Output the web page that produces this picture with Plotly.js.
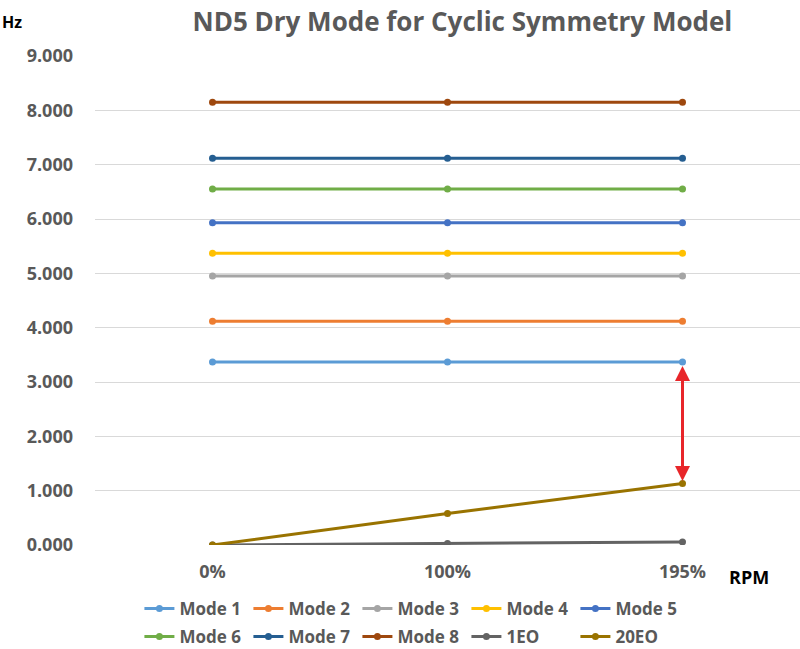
<!DOCTYPE html>
<html>
<head>
<meta charset="utf-8">
<script src="https://cdn.plot.ly/plotly-3.0.1.min.js"></script>
<style>html,body{margin:0;padding:0;background:#fff;}#chart{width:800px;height:649px;}</style>
</head>
<body>
<div id="chart"></div>
<script>
const categories = ["0%", "100%", "195%"];
const seriesNames = ["Mode 1","Mode 2","Mode 3","Mode 4","Mode 5","Mode 6","Mode 7","Mode 8","1EO","20EO"];
const mode1 = [3.37, 3.37, 3.37];
const mode2 = [4.12, 4.12, 4.12];
const mode3 = [4.95, 4.95, 4.95];
const mode4 = [5.37, 5.37, 5.37];
const mode5 = [5.93, 5.93, 5.93];
const mode6 = [6.55, 6.55, 6.55];
const mode7 = [7.12, 7.12, 7.12];
const mode8 = [8.15, 8.15, 8.15];
const eo1 = [0.0, 0.029, 0.057];
const eo20 = [0.0, 0.58, 1.13];
const yTicks = [0,1,2,3,4,5,6,7,8,9];
const colors = ["#5B9BD5","#ED7D31","#A5A5A5","#FFC000","#4472C4","#70AD47","#255E91","#9E480E","#636363","#997300"];

const allSeries = [mode1,mode2,mode3,mode4,mode5,mode6,mode7,mode8,eo1,eo20];
const FONT = "'Open Sans', 'Noto Sans', sans-serif";

const traces = allSeries.map((vals, i) => ({
  type: "scatter",
  mode: "lines+markers",
  name: seriesNames[i],
  legend: i < 5 ? "legend" : "legend2",
  x: categories,
  y: vals,
  line: {color: colors[i], width: 3},
  marker: {color: colors[i], size: 7}
}));

const legendFont = {family: FONT, size: 17, color: "#595959", weight: "bold"};
const legendCommon = {
  orientation: "h",
  xref: "paper", x: 0.063, xanchor: "left",
  yref: "paper", yanchor: "top",
  font: legendFont,
  entrywidth: 64,
  itemwidth: 30,
  tracegroupgap: 0,
  bgcolor: "rgba(0,0,0,0)"
};

const layout = {
  width: 800, height: 649,
  margin: {l: 95, r: 0, t: 56, b: 104, autoexpand: false},
  paper_bgcolor: "#fff", plot_bgcolor: "#fff",
  showlegend: true,
  title: {
    text: "<b>ND5 Dry Mode for Cyclic Symmetry Model</b>",
    font: {family: FONT, size: 26, color: "#595959"},
    xref: "container", x: 0.578, xanchor: "center",
    yref: "container", y: 0.966, yanchor: "middle"
  },
  xaxis: {
    type: "category",
    range: [-0.5, 2.5],
    showgrid: false, zeroline: false, showline: false,
    ticks: "",
    ticklabelstandoff: 14,
    tickfont: {family: FONT, size: 18, color: "#595959", weight: "bold"},
    fixedrange: true
  },
  yaxis: {
    range: [0, 9],
    tickvals: yTicks,
    tickformat: ".3f",
    showgrid: true, gridcolor: "#d9d9d9", gridwidth: 1,
    zeroline: false, showline: false,
    ticks: "",
    ticklabelstandoff: 21,
    tickfont: {family: FONT, size: 18, color: "#595959", weight: "bold"},
    fixedrange: true
  },
  legend: Object.assign({}, legendCommon, {y: -0.094}),
  legend2: Object.assign({}, legendCommon, {y: -0.151}),
  annotations: [
    {
      text: "<b>Hz</b>", showarrow: false,
      xref: "paper", x: -0.135, xanchor: "left",
      yref: "paper", y: 1.07, yanchor: "middle",
      font: {family: FONT, size: 16, color: "#000"}
    },
    {
      text: "<b>RPM</b>", showarrow: false,
      xref: "paper", x: 0.928, xanchor: "center",
      yref: "paper", y: -0.065, yanchor: "middle",
      font: {family: FONT, size: 18, color: "#000"}
    },
    {
      x: 2, y: eo20[2] + 0.05,
      ax: 2, ay: mode1[2] - 0.05,
      xref: "x", yref: "y", axref: "x", ayref: "y",
      text: "", showarrow: true,
      arrowhead: 2, startarrowhead: 2, arrowside: "end+start",
      arrowsize: 1, startarrowsize: 1,
      arrowwidth: 3, arrowcolor: "#E8262A"
    }
  ]
};

Plotly.newPlot("chart", traces, layout, {displayModeBar: false, staticPlot: true});
</script>
</body>
</html>
